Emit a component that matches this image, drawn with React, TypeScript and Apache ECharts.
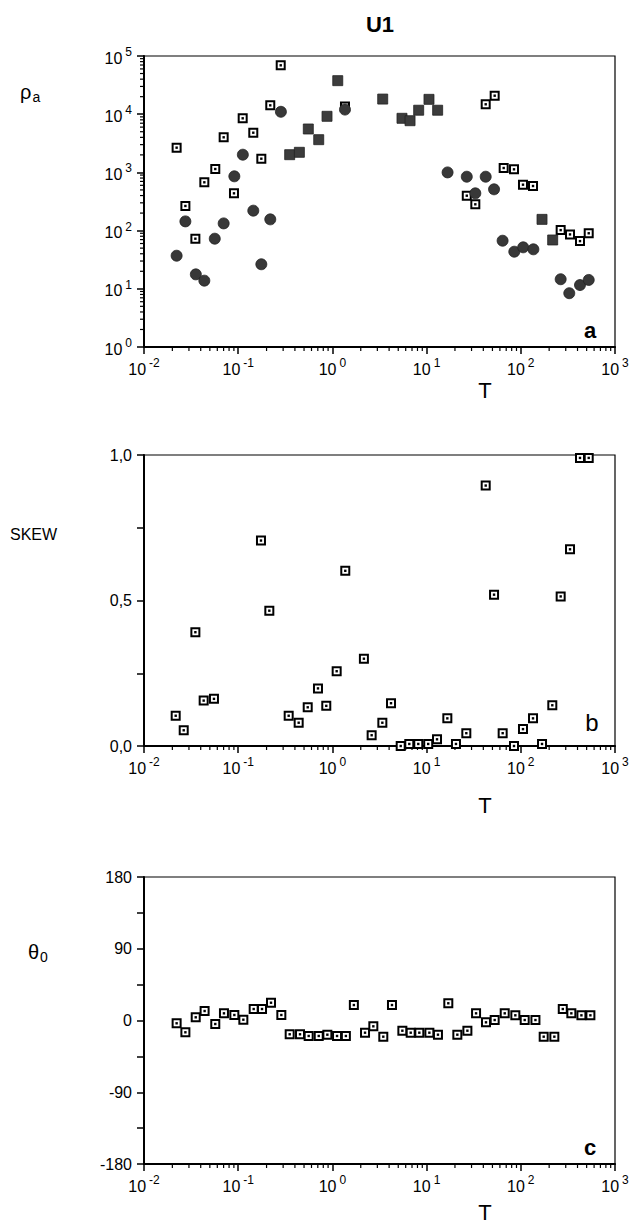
import React, { useEffect, useRef } from "react";
import * as echarts from "echarts";

const FONT = "'Liberation Sans', Arial, Helvetica, sans-serif";

// ---- Panel a: apparent resistivity (rho_a) vs period T ----
const rhoOpen: [number, number][] = [
  [0.0222, 2660], [0.0275, 265], [0.0351, 72.6], [0.0437, 676], [0.0571, 1143],
  [0.0701, 4010], [0.0902, 437], [0.1116, 8500], [0.1446, 4810], [0.176, 1720],
  [0.219, 14200], [0.2827, 69200], [1.36, 13500], [26.7, 398], [32.9, 283],
  [42.4, 14800], [52.8, 20800], [65.8, 1190], [84.7, 1130], [105.5, 615],
  [134.8, 584], [265, 102], [333, 86], [425, 66], [526, 90],
];
const rhoFilledRound: [number, number][] = [
  [0.0222, 37], [0.0275, 144], [0.0355, 17.7], [0.0437, 13.8], [0.0564, 72.6],
  [0.0701, 133], [0.091, 857], [0.112, 2015], [0.1446, 220], [0.176, 26.4],
  [0.219, 156], [0.284, 11000], [1.36, 12000], [16.7, 1000], [26.7, 843],
  [32.9, 437], [42.4, 843], [52, 512], [64.1, 67], [85.3, 43.4], [106, 51.6],
  [136, 47.7], [265, 14.6], [327, 8.4], [425, 11.6], [526, 14.2],
];
const rhoFilledSquare: [number, number][] = [
  [0.352, 2015], [0.446, 2215], [0.555, 5570], [0.716, 3650], [0.877, 9200],
  [1.14, 37700], [3.42, 18200], [5.48, 8500], [6.67, 7730], [8.24, 11700],
  [10.6, 18000], [13.1, 11700], [168, 156], [218, 69],
];

// ---- Panel b: SKEW vs T ----
const skew: [number, number][] = [
  [0.0217, 0.104], [0.0264, 0.054], [0.0351, 0.391], [0.043, 0.156], [0.0553, 0.162],
  [0.1745, 0.706], [0.214, 0.465], [0.3435, 0.104], [0.4385, 0.08], [0.547, 0.133],
  [0.703, 0.198], [0.861, 0.138], [1.11, 0.257], [1.37, 0.602], [2.16, 0.3],
  [2.61, 0.037], [3.39, 0.08], [4.19, 0.147], [5.31, 0.0], [6.55, 0.007],
  [8.16, 0.007], [10.4, 0.007], [12.9, 0.023], [16.6, 0.095], [20.5, 0.007],
  [26.4, 0.044], [42.4, 0.895], [52, 0.52], [64.2, 0.044], [84.7, 0.0],
  [105.5, 0.058], [134.8, 0.095], [168, 0.007], [216, 0.14], [265, 0.514],
  [333, 0.676], [425, 0.99], [526, 0.99],
];

// ---- Panel c: theta_0 vs T ----
const theta: [number, number][] = [
  [0.0222, -3.5], [0.0275, -14.8], [0.0354, 4], [0.044, 11.9], [0.0571, -4.4],
  [0.0706, 9], [0.091, 6.9], [0.1134, 1], [0.146, 14.4], [0.179, 14.4],
  [0.223, 22.3], [0.287, 6.9], [0.352, -17.3], [0.453, -17.3], [0.56, -19.4],
  [0.716, -19.4], [0.884, -17.8], [1.12, -19.4], [1.39, -19.4], [1.69, 19.4],
  [2.22, -15.3], [2.72, -7.3], [3.47, -20.3], [4.29, 19.4], [5.53, -12.8],
  [6.78, -15.3], [8.37, -15.3], [10.7, -15.3], [13.2, -17.8], [17, 21.6],
  [21.2, -17.8], [27.1, -12.8], [33.5, 9], [42.7, -2.3], [52.8, 0.6],
  [67.5, 9], [87.5, 6.5], [110, 0.6], [143, 0.6], [175, -20.3], [227, -20.3],
  [279, 14.4], [344, 9], [440, 6.5], [548, 6.5],
];

// tick labels
const skewLabels: Record<string, string> = { "0": "0,0", "0.5": "0,5", "1": "1,0" };
const thetaLabels = [-180, -90, 0, 90, 180];
const xDecades = [-2, -1, 0, 1, 2];
const yDecades = [0, 1, 2, 3, 4];
const minorMultipliers = [2, 3, 4, 5, 6, 7, 8, 9];

const xMinor = xDecades.flatMap((n) => minorMultipliers.map((k) => k * Math.pow(10, n)));
const yMinor = yDecades.flatMap((n) => minorMultipliers.map((k) => k * Math.pow(10, n)));

const rich = {
  b: { fontSize: 16, fontFamily: FONT, color: "#000", lineHeight: 20, verticalAlign: "bottom" },
  e: { fontSize: 12, fontFamily: FONT, color: "#000", lineHeight: 10, verticalAlign: "top", padding: [0, 0, 0, 3] },
};
const powLabel = (v: number) => `{b|10}{e|${Math.round(Math.log10(v))}}`;

const gridBox = { show: true, borderColor: "#000", borderWidth: 1.2, backgroundColor: "transparent" };
const grids = [
  { ...gridBox, left: 144, top: 56, width: 471, height: 291 },
  { ...gridBox, left: 144, top: 455, width: 471, height: 291 },
  { ...gridBox, left: 144, top: 877, width: 471, height: 287 },
];

const axisLine = { show: true, onZero: false, lineStyle: { color: "#000", width: 2 } };
const axisTick = { show: true, inside: false, length: 7, lineStyle: { color: "#000", width: 1.5 } };

const xAxes = [0, 1, 2].map((i) => ({
  type: "log",
  logBase: 10,
  gridIndex: i,
  min: 0.01,
  max: 1000,
  axisLine,
  axisTick,
  splitLine: { show: false },
  minorTick: { show: false },
  axisLabel: { margin: 10, formatter: powLabel, rich },
}));

const yAxes = [
  {
    type: "log", logBase: 10, gridIndex: 0, min: 1, max: 100000,
    axisLine, axisTick, splitLine: { show: false },
    axisLabel: { margin: 12, formatter: powLabel, rich },
  },
  {
    type: "value", gridIndex: 1, min: 0, max: 1, interval: 0.25,
    axisLine, axisTick, splitLine: { show: false },
    axisLabel: {
      margin: 12, fontSize: 16, fontFamily: FONT, color: "#000",
      formatter: (v: number) => skewLabels[String(Math.round(v * 100) / 100)] ?? "",
    },
  },
  {
    type: "value", gridIndex: 2, min: -180, max: 180, interval: 45,
    axisLine, axisTick, splitLine: { show: false },
    axisLabel: {
      margin: 12, fontSize: 16, fontFamily: FONT, color: "#000",
      formatter: (v: number) => (thetaLabels.includes(Math.round(v)) ? String(Math.round(v)) : ""),
    },
  },
];

function minorTicks(axisIdx: number, values: number[], dir: "x" | "y", base: number) {
  return {
    type: "custom",
    xAxisIndex: axisIdx,
    yAxisIndex: axisIdx,
    silent: true,
    clip: false,
    z: 1,
    data: values.map((v) => (dir === "x" ? [v, base] : [base, v])),
    renderItem: (_p: any, api: any) => {
      const p = api.coord([api.value(0), api.value(1)]);
      const shape =
        dir === "x"
          ? { x1: p[0], y1: p[1], x2: p[0], y2: p[1] + 4 }
          : { x1: p[0], y1: p[1], x2: p[0] - 4, y2: p[1] };
      return { type: "line", shape, style: { stroke: "#000", lineWidth: 1.2 } };
    },
  };
}

function openSquares(idx: number, data: [number, number][]) {
  return [
    {
      type: "scatter", xAxisIndex: idx, yAxisIndex: idx, data, symbol: "rect", symbolSize: 8,
      itemStyle: { color: "#fff", borderColor: "#000", borderWidth: 2, opacity: 1 }, z: 3,
    },
    {
      type: "scatter", xAxisIndex: idx, yAxisIndex: idx, data, symbol: "rect", symbolSize: 2.4,
      itemStyle: { color: "#000", opacity: 1 }, z: 4,
    },
  ];
}

const series: any[] = [
  minorTicks(0, xMinor, "x", 1),
  minorTicks(0, yMinor, "y", 0.01),
  minorTicks(1, xMinor, "x", 0),
  minorTicks(2, xMinor, "x", -180),
  ...openSquares(0, rhoOpen),
  {
    type: "scatter", xAxisIndex: 0, yAxisIndex: 0, data: rhoFilledRound, symbol: "circle", symbolSize: 11,
    itemStyle: { color: "#383838", borderColor: "#222", borderWidth: 0.8, opacity: 1 }, z: 5,
  },
  {
    type: "scatter", xAxisIndex: 0, yAxisIndex: 0, data: rhoFilledSquare, symbol: "rect", symbolSize: 10,
    itemStyle: { color: "#3c3c3c", borderColor: "#222", borderWidth: 0.8, opacity: 1 }, z: 5,
  },
  ...openSquares(1, skew),
  ...openSquares(2, theta),
];

const txt = (text: string, x: number, y: number, size: number, extra: any = {}) => ({
  type: "text",
  x,
  y,
  silent: true,
  style: {
    text,
    fill: "#000",
    fontSize: size,
    fontFamily: FONT,
    align: extra.align ?? "center",
    verticalAlign: "middle",
    textAlign: extra.align ?? "center",
    textVerticalAlign: "middle",
    fontWeight: extra.fontWeight ?? "normal",
    rich: extra.rich,
  },
});

const graphic = [
  txt("U1", 380, 24, 22, { fontWeight: "bold" }),
  txt("{r|ρ}{s|a}", 20, 92, 20, {
    align: "left",
    rich: {
      r: { fontSize: 20, fontFamily: FONT, fill: "#000", lineHeight: 24, verticalAlign: "middle" },
      s: { fontSize: 14, fontFamily: FONT, fill: "#000", lineHeight: 12, verticalAlign: "bottom", padding: [0, 0, 0, 1] },
    },
  }),
  txt("SKEW", 10, 534, 16, { align: "left" }),
  txt("{r|θ}{s|0}", 28, 952, 20, {
    align: "left",
    rich: {
      r: { fontSize: 20, fontFamily: FONT, fill: "#000", lineHeight: 24, verticalAlign: "middle" },
      s: { fontSize: 14, fontFamily: FONT, fill: "#000", lineHeight: 12, verticalAlign: "bottom", padding: [0, 0, 0, 1] },
    },
  }),
  txt("T", 485, 390, 22),
  txt("T", 485, 805, 22),
  txt("T", 485, 1212, 22),
  txt("a", 590, 330, 22, { fontWeight: "bold" }),
  txt("b", 592, 722, 24),
  txt("c", 590, 1147, 22, { fontWeight: "bold" }),
];

export default function App() {
  const ref = useRef<HTMLDivElement>(null);
  useEffect(() => {
    const chart = echarts.init(ref.current!, null, { renderer: "svg" });
    chart.setOption({
      animation: false,
      backgroundColor: "#fff",
      textStyle: { fontFamily: FONT },
      grid: grids,
      xAxis: xAxes,
      yAxis: yAxes,
      series,
      graphic,
    } as any);
    return () => chart.dispose();
  }, []);
  return (
    <div
      ref={ref}
      style={{ position: "absolute", left: 0, top: 0, width: 642, height: 1230, background: "#fff" }}
    />
  );
}
